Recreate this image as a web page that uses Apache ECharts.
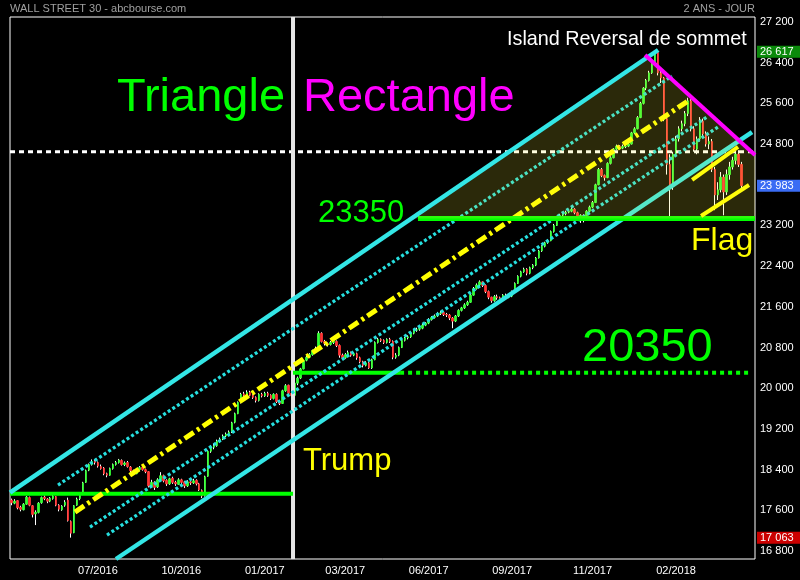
<!DOCTYPE html>
<html><head><meta charset="utf-8">
<script src="https://cdn.jsdelivr.net/npm/echarts@6/dist/echarts.min.js"></script>
<style>html,body{margin:0;padding:0;background:#000}#c{width:800px;height:580px}</style>
</head><body><div id="c"></div><script>
// ---------- data ----------
const barCount = 250;
const categories = [];
(function () {
  const d = new Date(Date.UTC(2016, 3, 28));
  for (let k = 0; k < barCount; k++) {
    categories.push(d.toISOString().slice(0, 10));
    let n = 0;
    while (n < 2) { d.setUTCDate(d.getUTCDate() + 1); const w = d.getUTCDay(); if (w !== 0 && w !== 6) n++; }
  }
})();

// [open, close, low, high]
const ohlc = [
[17800,17750,17700,17830],[17740,17780,17720,17820],[17790,17650,17620,17800],[17660,17620,17580,17690],
[17610,17720,17600,17740],[17720,17860,17710,17880],[17850,17700,17680,17870],[17690,17520,17460,17700],
[17530,17560,17310,17600],[17560,17740,17540,17760],[17750,17850,17730,17870],[17860,17830,17800,17890],
[17820,17780,17740,17840],[17780,17840,17760,17860],[17830,17880,17810,17910],[17870,17700,17680,17880],
[17700,17620,17580,17720],[17610,17680,17590,17700],[17700,17760,17670,17800],[17800,17400,17380,17850],
[17380,17150,17063,17400],[17160,17690,17150,17700],[17700,17820,17690,17850],[17830,17900,17800,17930],
[17920,18140,17900,18160],[18150,18380,18140,18400],[18390,18500,18370,18520],[18500,18560,18480,18600],
[18570,18540,18500,18590],[18540,18470,18440,18560],[18460,18420,18400,18500],[18430,18320,18290,18450],
[18320,18290,18250,18340],[18290,18420,18280,18440],[18420,18500,18400,18520],[18500,18540,18480,18570],
[18540,18590,18520,18610],[18580,18500,18480,18600],[18500,18530,18470,18560],[18540,18460,18440,18570],
[18450,18380,18350,18470],[18380,18330,18300,18400],[18320,18400,18310,18420],[18400,18440,18380,18470],
[18450,18400,18380,18480],[18400,18360,18330,18420],[18360,18080,18050,18370],[18070,18150,18040,18200],
[18150,18050,18000,18170],[18060,18200,18040,18230],[18200,18280,18180,18350],[18280,18180,18150,18300],
[18190,18120,18080,18210],[18120,18220,18100,18240],[18230,18150,18120,18260],[18150,18120,18080,18180],
[18110,18200,18100,18230],[18200,18150,18120,18220],[18160,18080,18040,18180],[18080,18160,18060,18190],
[18160,18140,18100,18200],[18140,18180,18120,18220],[18190,18120,18090,18210],[18120,18000,17980,18140],
[17990,17880,17840,18010],[17890,18260,17870,18280],[18270,18760,18260,18780],[18760,18830,18730,18870],
[18840,18870,18800,18910],[18870,18960,18850,18990],[18950,19000,18930,19030],[19000,19060,18980,19090],
[19060,19100,19040,19130],[19110,19140,19070,19170],[19140,19320,19120,19340],[19330,19500,19310,19520],
[19500,19720,19490,19740],[19720,19880,19700,19910],[19890,19860,19830,19930],[19860,19920,19840,19960],
[19920,19860,19840,19950],[19860,19820,19790,19880],[19820,19760,19720,19840],[19760,19880,19740,19900],
[19880,19850,19820,19910],[19850,19900,19830,19930],[19900,19860,19830,19930],[19860,19800,19770,19880],
[19800,19880,19780,19900],[19880,19740,19710,19900],[19740,19700,19670,19770],[19700,19950,19690,19970],
[19950,20050,19930,20080],[20060,19900,19870,20070],[19900,19850,19820,19940],[19860,20100,19840,20120],
[20100,20200,20060,20230],[20200,20380,20180,20400],[20380,20540,20370,20560],[20550,20610,20530,20640],
[20610,20660,20590,20690],[20660,20740,20640,20760],[20740,20780,20720,20820],[20790,21080,20780,21120],
[21080,20920,20900,21100],[20920,20880,20840,20950],[20880,20860,20820,20900],[20860,20900,20840,20930],
[20900,20920,20870,20960],[20920,20840,20810,20940],[20840,20650,20600,20860],[20650,20600,20560,20680],
[20600,20660,20580,20690],[20660,20700,20630,20740],[20700,20650,20620,20720],[20650,20680,20630,20710],
[20680,20600,20560,20700],[20600,20520,20490,20620],[20520,20450,20410,20540],[20450,20500,20430,20530],
[20500,20400,20380,20520],[20400,20560,20380,20580],[20560,20900,20550,20920],[20900,20960,20880,20990],
[20960,20940,20910,20980],[20940,20900,20870,20960],[20900,20960,20880,20980],[20960,20920,20890,20990],
[20920,20610,20570,20940],[20610,20650,20580,20690],[20650,20800,20630,20820],[20800,20940,20790,20960],
[20940,20990,20920,21010],[20990,21010,20960,21040],[21010,21080,20990,21100],[21080,21140,21060,21170],
[21140,21150,21110,21190],[21160,21180,21130,21210],[21180,21240,21160,21270],[21240,21280,21220,21300],
[21280,21350,21260,21380],[21350,21390,21330,21420],[21390,21420,21370,21450],[21420,21470,21400,21500],
[21470,21480,21440,21520],[21490,21450,21420,21510],[21450,21440,21400,21480],[21440,21380,21340,21460],
[21380,21320,21180,21400],[21320,21420,21300,21440],[21420,21530,21400,21550],[21530,21580,21510,21600],
[21580,21640,21560,21670],[21640,21690,21620,21720],[21690,21830,21680,21850],[21830,21960,21820,21990],
[21960,22030,21940,22060],[22030,22090,22010,22120],[22090,22020,21990,22100],[22020,21900,21870,22040],
[21900,21790,21750,21920],[21790,21720,21680,21800],[21720,21800,21700,21830],[21800,21780,21740,21840],
[21780,21740,21700,21800],[21740,21830,21720,21850],[21830,21790,21760,21860],[21790,21810,21770,21840],
[21810,21900,21790,21920],[21900,22060,21890,22080],[22060,22200,22050,22220],[22200,22290,22180,22310],
[22290,22340,22270,22370],[22340,22260,22220,22360],[22260,22370,22240,22390],[22370,22420,22340,22440],
[22420,22560,22400,22580],[22560,22700,22550,22720],[22700,22790,22680,22810],[22790,22860,22770,22880],
[22860,22900,22840,22930],[22900,23080,22890,23100],[23080,23200,23060,23230],[23200,23330,23190,23350],
[23330,23400,23310,23430],[23400,23430,23370,23460],[23430,23460,23400,23490],[23460,23480,23440,23510],
[23480,23520,23460,23560],[23520,23450,23420,23540],[23450,23380,23350,23470],[23380,23400,23250,23420],
[23400,23300,23260,23420],[23300,23480,23290,23500],[23480,23560,23460,23590],[23560,23650,23540,23680],
[23650,24000,23640,24020],[24000,24300,23990,24330],[24300,24180,24150,24330],[24180,24140,24080,24200],
[24140,24420,24130,24440],[24420,24530,24400,24560],[24530,24700,24520,24720],[24700,24760,24680,24790],
[24760,24720,24690,24780],[24720,24750,24700,24790],[24750,24760,24720,24800],[24760,24800,24740,24830],
[24800,25020,24790,25040],[25020,25100,25000,25130],[25100,25320,25090,25350],[25320,25600,25310,25630],
[25600,25900,25580,25920],[25900,26050,25860,26080],[26050,26200,26030,26240],[26200,26400,26180,26430],
[26400,26600,26380,26617],[26600,26200,26150,26610],[26200,26100,26000,26250],[26100,25300,25250,26120],
[25300,24400,24200,25350],[24400,24000,23360,24600],[24000,24600,23900,24650],[24600,24900,24550,24960],
[24900,25100,24850,25150],[25100,25200,25050,25260],[25200,25400,25150,25450],[25400,25650,25350,25710],
[25650,25100,25050,25680],[25100,24700,24650,25150],[24700,24900,24600,24950],[24900,25250,24850,25330],
[25250,25000,24950,25300],[25000,24800,24750,25050],[24800,24850,24700,24950],[24850,24300,24250,24900],
[24300,23800,23500,24350],[23800,23900,23700,24050],[23900,24150,23850,24250],[24150,23860,23400,24200],
[23860,24200,23800,24300],[24200,24350,24100,24450],[24350,24480,24300,24550],[24480,24600,24400,24700],
[24600,24400,24350,24680],[24400,23983,23900,24450]
];

// tick labels
const yTicks = [16800,17600,18400,19200,20000,20800,21600,22400,23200,24800,25600,26400,27200];
const xTickIdx = [29,57,85,112,140,168,195,223];
const xTickLabels = ['07/2016','10/2016','01/2017','03/2017','06/2017','09/2017','11/2017','02/2018'];

// price tags: period high, last, period low
const tagValues = [26617, 23983, 17063];
const tagColors = ['#0b8a0b', '#3a6cf4', '#cc0000'];

// drawn analysis lines: [barIndex, price]
const channelUpper = [[-0.5,17946],[217.0,26649]];
const channelLower = [[35.07,16643],[248.5,25037]];
const channelMid = [[21.31,17566],[227.0,25647]];
const dotUpper = [[15.61,18097],[221.65,26138]];
const dotMid = [[26.35,17272],[233.4,25332]];
const dotLow = [[32.05,17114],[237.1,25136]];
const topLine = [[212.6,26551],[249.5,24585]];
const level17930 = [[-0.5,17926],[94.47,17926]];
const level20350 = [[94.47,20305],[130.4,20305]];
const level20350ext = [[130.4,20305],[248.5,20305]];
const level23350 = [[136.4,23337],[249.5,23337]];
const level24650 = [[-0.5,24650],[249.5,24650]];
const trumpDay = [[94.47,16643],[94.47,27298]];
const flagUpper = [[228.4,24094],[243.8,24743]];
const flagLower = [[231.4,23386],[247.5,23995]];
const triangleZone = [[134.4,23337],[213.6,26551],[249.5,24585],[249.5,23337]];

// ---------- chart ----------
const fmt = v => String(v).replace(/\B(?=(\d{3})+(?!\d))/g, ' ');
const FONT = 'Liberation Sans, Arial, sans-serif';
const bodies = ohlc.map(([o, c]) => [o, c, Math.min(o, c), Math.max(o, c)]);

function lineSeries(data, color, width, type, z) {
  return { type: 'line', xAxisIndex: 1, yAxisIndex: 0, data: data, symbol: 'none', silent: true,
    z: z || 3, lineStyle: { color: color, width: width, type: type || 'solid', cap: 'butt' } };
}
const tagRich = {};
tagValues.forEach((v, k) => {
  tagRich['t' + k] = { backgroundColor: tagColors[k], color: '#fff', fontSize: 11, fontFamily: FONT,
    padding: [1, 7, 0, 3], lineHeight: 12 };
});

const chart = echarts.init(document.getElementById('c'), null, { renderer: 'canvas' });
chart.setOption({
  backgroundColor: '#000',
  animation: false,
  grid: { left: 10, right: 45, top: 17, bottom: 21, show: true, borderColor: '#fff', borderWidth: 1,
    backgroundColor: 'transparent', containLabel: false, outerBoundsMode: 'none' },
  xAxis: [
    { type: 'category', data: categories, boundaryGap: true,
      axisLine: { show: false }, axisTick: { show: false }, splitLine: { show: false },
      axisLabel: { color: '#fff', fontSize: 11, fontFamily: FONT, margin: 6,
        interval: (idx) => xTickIdx.indexOf(idx) >= 0,
        formatter: (val, idx) => { const k = xTickIdx.indexOf(idx); return k >= 0 ? xTickLabels[k] : ''; } } },
    { type: 'value', min: -0.5, max: barCount - 0.5, show: false }
  ],
  yAxis: [
    { type: 'value', position: 'right', min: 16643, max: 27298,
      axisLine: { show: false }, axisTick: { show: false }, splitLine: { show: false },
      axisLabel: { color: '#fff', fontSize: 11, fontFamily: FONT, margin: 5, customValues: yTicks, formatter: fmt } },
    { type: 'value', position: 'right', min: 16643, max: 27298,
      axisLine: { show: false }, axisTick: { show: false }, splitLine: { show: false },
      axisLabel: { fontSize: 11, fontFamily: FONT, margin: 2, customValues: tagValues, rich: tagRich,
        formatter: v => '{t' + tagValues.indexOf(v) + '|' + fmt(v) + '}' } }
  ],
  series: [
    { type: 'candlestick', xAxisIndex: 0, yAxisIndex: 0, data: ohlc, barWidth: 1, silent: true, z: 2,
      itemStyle: { color: '#fff', color0: '#fff', borderColor: '#fff', borderColor0: '#fff', borderWidth: 1 } },
    { type: 'candlestick', xAxisIndex: 0, yAxisIndex: 0, data: bodies, barWidth: 2, silent: true, z: 2,
      itemStyle: { color: '#33ff33', color0: '#ff3333', borderColor: '#33ff33', borderColor0: '#ff3333', borderWidth: 0.8 } },
    lineSeries(level24650, '#ffffff', 3, [5, 4]),
    lineSeries(trumpDay, '#e6e6e6', 4),
    lineSeries(level17930, '#00ff00', 4),
    lineSeries(level20350, '#00ff00', 4),
    lineSeries(level20350ext, '#00ff00', 4, [4, 4]),
    lineSeries(dotUpper, '#26dede', 3.3, [3, 2.5]),
    lineSeries(dotMid, '#26dede', 3.3, [3, 2.5]),
    lineSeries(dotLow, '#26dede', 3.3, [3, 2.5]),
    lineSeries(channelMid, '#ffff00', 5, [11, 4, 3, 4]),
    lineSeries(channelLower, '#33e6e6', 4.5),
    lineSeries(level23350, '#00ff00', 5),
    lineSeries(flagUpper, '#ffff00', 4),
    lineSeries(flagLower, '#ffff00', 4),
    { type: 'custom', xAxisIndex: 1, yAxisIndex: 0, data: [[0, 20000]], silent: true, z: 4,
      renderItem: function (params, api) {
        return { type: 'polygon', shape: { points: triangleZone.map(p => api.coord(p)) },
          style: { fill: 'rgba(255,245,60,0.17)' } };
      } },
    lineSeries(channelUpper, '#33e6e6', 4.5, 'solid', 5),
    lineSeries(topLine, '#ff00ff', 4, 'solid', 5)
  ],
  graphic: [
    { type: 'text', x: 10, y: 9, style: { text: 'WALL STREET 30 - abcbourse.com', fill: '#a0a0a0', font: '11px ' + FONT, textVerticalAlign: 'middle' } },
    { type: 'text', x: 755, y: 9, style: { text: '2 ANS - JOUR', fill: '#a0a0a0', font: '11px ' + FONT, textAlign: 'right', textVerticalAlign: 'middle' } },
    { type: 'text', x: 507, y: 40, z: 10, style: { text: 'Island Reversal de sommet', fill: '#ffffff', font: '19.8px ' + FONT, textVerticalAlign: 'middle' } },
    { type: 'text', x: 117, y: 98, z: 10, style: { text: 'Triangle', fill: '#00ff00', font: '47px ' + FONT, textVerticalAlign: 'middle' } },
    { type: 'text', x: 303, y: 98, z: 10, style: { text: 'Rectangle', fill: '#ff00ff', font: '47px ' + FONT, textVerticalAlign: 'middle' } },
    { type: 'text', x: 318, y: 213, z: 10, style: { text: '23350', fill: '#00ff00', font: '31px ' + FONT, textVerticalAlign: 'middle' } },
    { type: 'text', x: 691, y: 241, z: 10, style: { text: 'Flag', fill: '#ffff00', font: '32px ' + FONT, textVerticalAlign: 'middle' } },
    { type: 'text', x: 582, y: 348, z: 10, style: { text: '20350', fill: '#00ff00', font: '47px ' + FONT, textVerticalAlign: 'middle' } },
    { type: 'text', x: 303, y: 461, z: 10, style: { text: 'Trump', fill: '#ffff00', font: '31px ' + FONT, textVerticalAlign: 'middle' } }
  ]
});
</script></body></html>
